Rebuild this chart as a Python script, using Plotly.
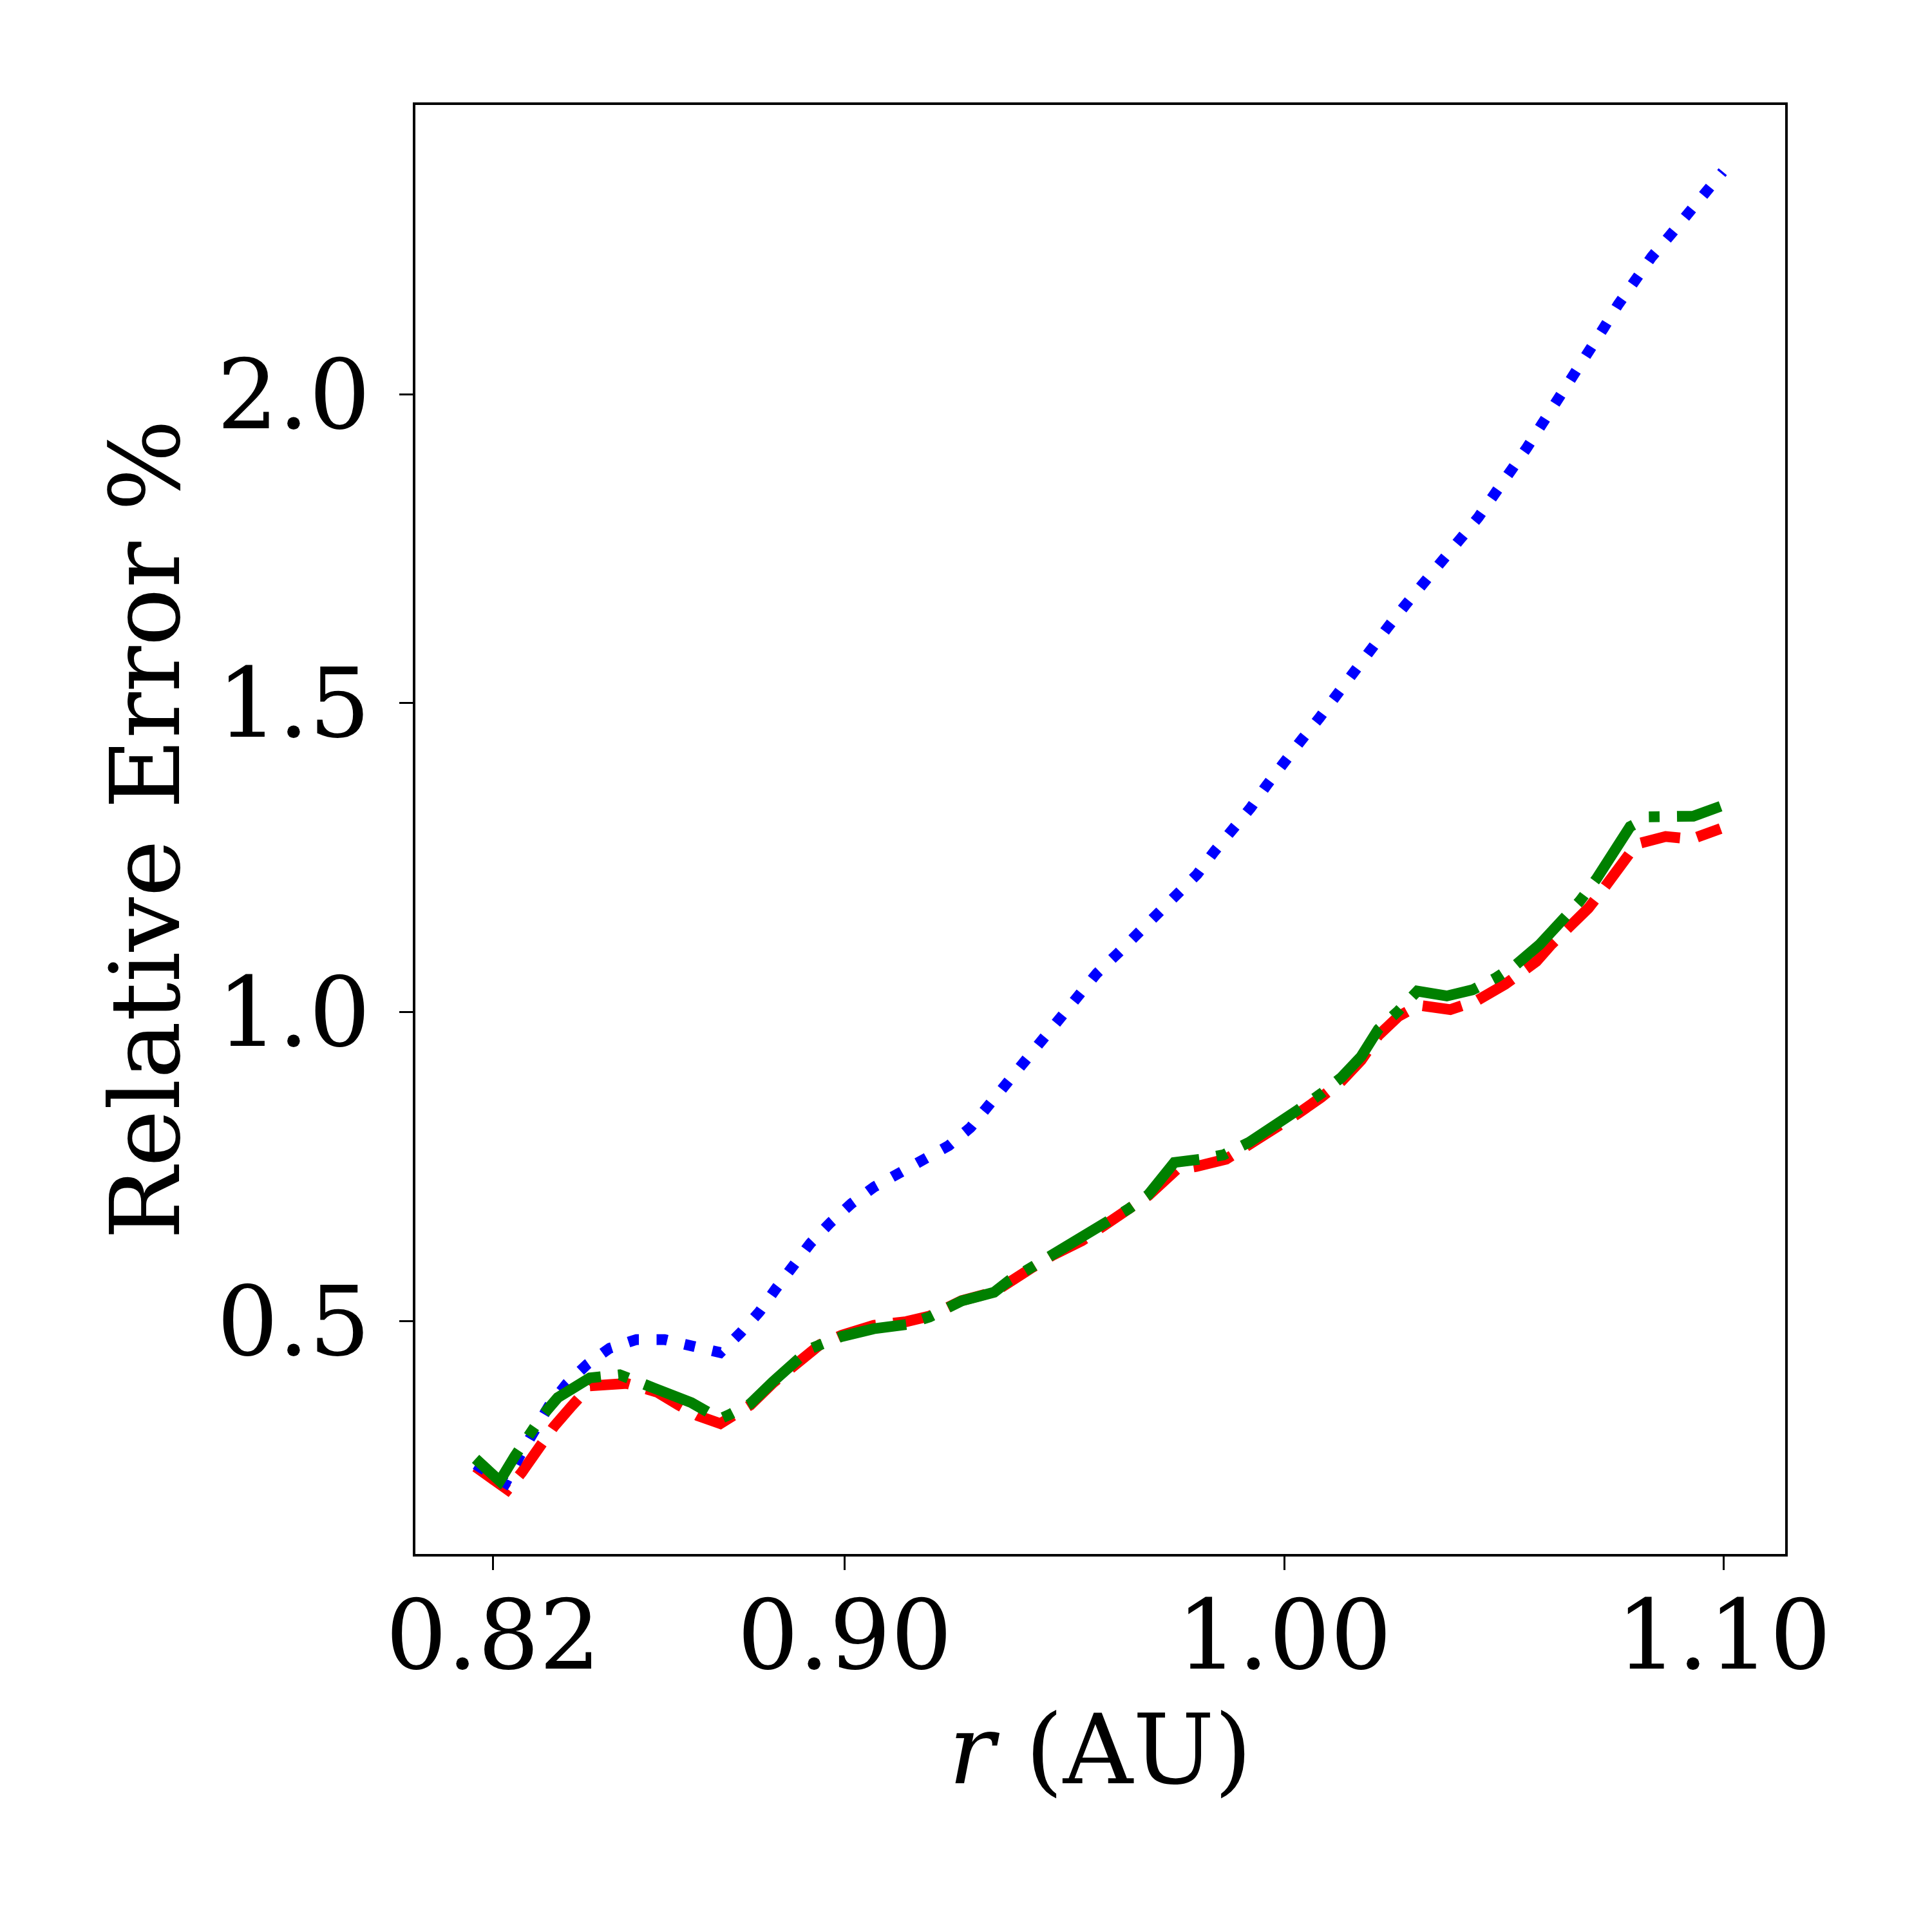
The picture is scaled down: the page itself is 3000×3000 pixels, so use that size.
import plotly.graph_objects as go

# ---- data ----
red_r = [0.8160, 0.8233, 0.8265, 0.8309, 0.8338, 0.8377, 0.8420, 0.8504, 0.8548, 0.8573,
         0.8622, 0.8665, 0.8717, 0.8739, 0.8785, 0.8837, 0.8876, 0.8920, 0.8944, 0.8993,
         0.9066, 0.9140, 0.9193, 0.9237, 0.9266, 0.9340, 0.9374, 0.9423, 0.9472, 0.9540,
         0.9589, 0.9647, 0.9691, 0.9755, 0.9800, 0.9868, 0.9914, 0.9959, 1.0032, 1.0084,
         1.0130, 1.0175, 1.0214, 1.0260, 1.0306, 1.0378, 1.0437, 1.0503, 1.0547, 1.0574,
         1.0606, 1.0645, 1.0692, 1.0724, 1.0770, 1.0802, 1.0868, 1.0927, 1.0993]
red_v = [0.264, 0.227, 0.255, 0.304, 0.329, 0.361, 0.395, 0.399, 0.392, 0.385,
         0.364, 0.347, 0.334, 0.345, 0.364, 0.400, 0.424, 0.452, 0.462, 0.477,
         0.493, 0.499, 0.508, 0.523, 0.533, 0.547, 0.564, 0.585, 0.606, 0.630,
         0.654, 0.680, 0.703, 0.745, 0.750, 0.762, 0.782, 0.800, 0.836, 0.862,
         0.888, 0.922, 0.962, 0.993, 1.011, 1.004, 1.018, 1.045, 1.066, 1.082,
         1.108, 1.135, 1.168, 1.197, 1.243, 1.272, 1.284, 1.280, 1.297]

green_r = [0.8160, 0.8215, 0.8249, 0.8278, 0.8312, 0.8347, 0.8420, 0.8488, 0.8542, 0.8566,
           0.8651, 0.8690, 0.8717, 0.8739, 0.8785, 0.8837, 0.8876, 0.8920, 0.8944, 0.8993,
           0.9066, 0.9140, 0.9193, 0.9237, 0.9266, 0.9340, 0.9374, 0.9423, 0.9472, 0.9540,
           0.9589, 0.9647, 0.9691, 0.9750, 0.9809, 0.9862, 0.9921, 0.9959, 1.0032, 1.0084,
           1.0130, 1.0175, 1.0214, 1.0260, 1.0303, 1.0370, 1.0429, 1.0483, 1.0528, 1.0581,
           1.0633, 1.0672, 1.0711, 1.0751, 1.0787, 1.0829, 1.0888, 1.0931, 1.0993]
green_v = [0.277, 0.241, 0.281, 0.314, 0.347, 0.376, 0.408, 0.413, 0.399, 0.394,
           0.368, 0.352, 0.342, 0.349, 0.366, 0.402, 0.425, 0.4545, 0.4615, 0.475,
           0.4875, 0.4944, 0.5066, 0.522, 0.5326, 0.5465, 0.5656, 0.586, 0.607, 0.6316,
           0.656, 0.682, 0.7045, 0.7566, 0.7618, 0.769, 0.7896, 0.806, 0.842, 0.868,
           0.894, 0.928, 0.972, 1.002, 1.034, 1.026, 1.036, 1.056, 1.077, 1.109,
           1.146, 1.179, 1.216, 1.260, 1.300, 1.316, 1.318, 1.317, 1.333]

blue_r = [0.8160, 0.8228, 0.8262, 0.8294, 0.8327, 0.8368, 0.8414, 0.8465, 0.8526, 0.8590,
          0.8653, 0.8717, 0.8763, 0.8806, 0.8844, 0.8883, 0.8922, 0.8967, 0.9015, 0.9067,
          0.9124, 0.9182, 0.9237, 0.9286, 0.9327, 0.9367, 0.9407, 0.9447, 0.9489, 0.9530,
          0.9574, 0.9620, 0.9665, 0.9711, 0.9757, 0.9802, 0.9841, 0.9885, 0.9923, 0.9959,
          0.9998, 1.0040, 1.0080, 1.0119, 1.0158, 1.0199, 1.0236, 1.0276, 1.0316, 1.0358,
          1.0400, 1.0441, 1.0479, 1.0515, 1.0552, 1.0587, 1.0622, 1.0659, 1.0692, 1.0727,
          1.0760, 1.0797, 1.0836, 1.0878, 1.0920, 1.0964, 1.0998]
blue_v = [0.268, 0.238, 0.284, 0.324, 0.3625, 0.399, 0.430, 0.456, 0.470, 0.470,
          0.460, 0.449, 0.481, 0.515, 0.553, 0.590, 0.626, 0.659, 0.690, 0.717,
          0.739, 0.759, 0.784, 0.813, 0.849, 0.885, 0.922, 0.957, 0.993, 1.025,
          1.063, 1.094, 1.127, 1.157, 1.191, 1.223, 1.260, 1.295, 1.330, 1.366,
          1.404, 1.441, 1.476, 1.514, 1.551, 1.586, 1.623, 1.659, 1.695, 1.730,
          1.765, 1.800, 1.837, 1.875, 1.913, 1.952, 1.990, 2.026, 2.065, 2.107,
          2.145, 2.185, 2.222, 2.257, 2.293, 2.327, 2.360]

x_ticks = [0.82, 0.90, 1.00, 1.10]
x_tick_labels = ["0.82", "0.90", "1.00", "1.10"]
y_ticks = [0.5, 1.0, 1.5, 2.0]
y_tick_labels = ["0.5", "1.0", "1.5", "2.0"]

LW = 16.7
FONT = "DejaVu Serif"
FS = 150

fig = go.Figure()
fig.add_trace(go.Scatter(x=red_r, y=red_v, mode="lines",
                         line=dict(color="#ff0000", width=LW, dash="62px,27px"),
                         showlegend=False))
fig.add_trace(go.Scatter(x=blue_r, y=blue_v, mode="lines",
                         line=dict(color="#0000ff", width=LW, dash="16.7px,27.5px"),
                         showlegend=False))
fig.add_trace(go.Scatter(x=green_r, y=green_v, mode="lines",
                         line=dict(color="#008000", width=LW, dash="107px,27px,16.7px,27px"),
                         showlegend=False))

axis_common = dict(
    showgrid=False, zeroline=False, showline=True, linecolor="black", linewidth=3.5,
    mirror=True, ticks="outside", ticklen=21, tickwidth=3, tickcolor="black",
    tickfont=dict(family=FONT, size=FS, color="black"),
)

fig.update_layout(
    width=3000, height=3000,
    paper_bgcolor="white", plot_bgcolor="white",
    margin=dict(l=637, r=236, t=155, b=595, autoexpand=False),
    xaxis=dict(range=[0.8023, 1.1140], tickvals=x_ticks, ticktext=x_tick_labels,
               title=dict(text="<i>r</i> (AU)", font=dict(family=FONT, size=FS, color="black"),
                          standoff=40),
               automargin=False, ticklabelstandoff=-27, **axis_common),
    yaxis=dict(range=[0.123, 2.468], tickvals=y_ticks, ticktext=y_tick_labels,
               title=dict(text="Relative Error %", font=dict(family=FONT, size=FS, color="black"),
                          standoff=8),
               automargin=False, ticklabelstandoff=15, **axis_common),
)

fig.write_html("out.html")
